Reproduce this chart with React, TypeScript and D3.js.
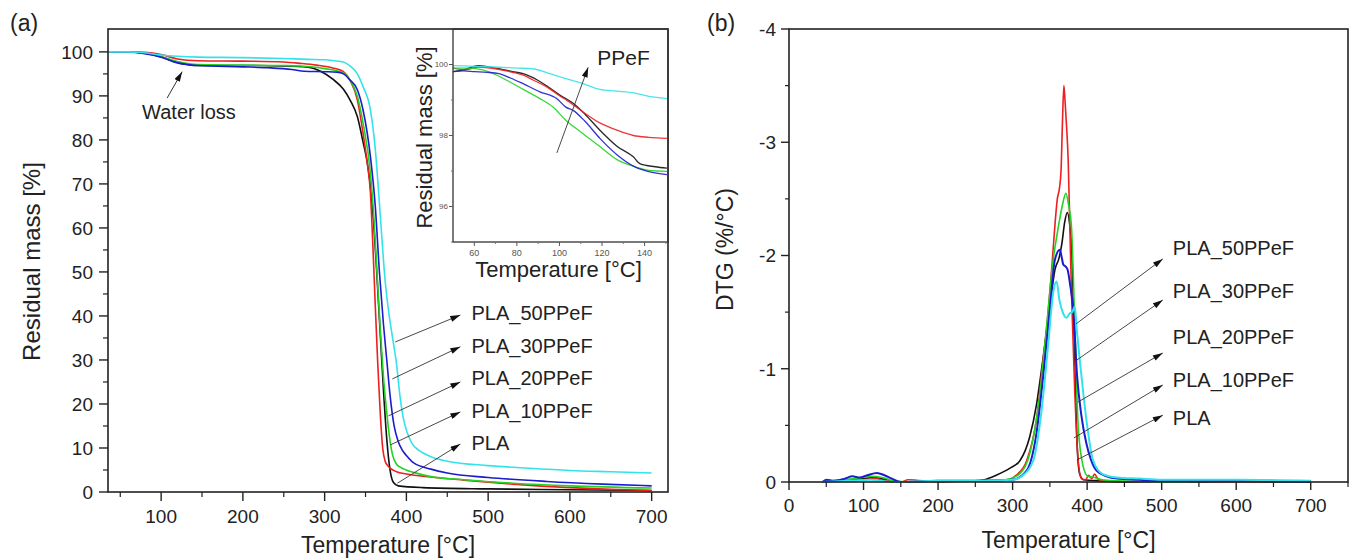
import React from "react";
import * as d3 from "d3";

type Pt = [number, number];

const FONT = "'Liberation Sans', Arial, Helvetica, sans-serif";

const seriesNames = ["PLA", "PLA_10PPeF", "PLA_20PPeF", "PLA_30PPeF", "PLA_50PPeF"];
const seriesColors = ["#111111", "#ee1f1f", "#22d322", "#1c1ccf", "#33e3ea"];

// ---------- (a) TGA residual mass [%] vs temperature [°C]
const tgaPLA: Pt[] = [[35,100],[60,100],[80,99.7],[100,98.9],[120,97.6],[145,96.9],[200,96.9],[250,96.8],[280,96.5],[295,95.6],[310,93.8],[323,91.5],[331,89.1],[340,85.3],[347,79.5],[352,75],[356,69.5],[360,61],[364,49],[368,36],[372,23],[376,12],[380,5],[384,2.2],[390,1.4],[420,1.0],[500,0.7],[600,0.5],[700,0.35]];
const tga10: Pt[] = [[35,100],[60,100],[80,99.9],[100,99.4],[120,98.4],[145,98.0],[200,97.9],[250,97.7],[270,97.4],[290,97.0],[311,96.3],[323,95.5],[331,93.6],[340,89.1],[347,81.5],[352,75],[356,68],[359,56],[362,42],[365,29],[368,18],[371,10],[374,7],[378,5.8],[388,4.6],[400,4.1],[430,3.4],[470,2.7],[530,1.8],[600,1.0],[650,0.6],[700,0.35]];
const tga20: Pt[] = [[35,100],[60,100],[80,99.7],[100,98.9],[120,97.8],[145,97.1],[200,97.0],[250,96.9],[270,96.8],[300,96.2],[323,95.2],[331,93.6],[340,89.9],[347,83.8],[356,72.4],[360,63],[364,50],[368,37],[372,26],[376,18],[379,13],[383,8.5],[388,6.3],[393,5.6],[410,4.4],[430,3.5],[470,2.8],[531,2.0],[600,1.4],[700,0.9]];
const tga30: Pt[] = [[35,100],[60,100],[80,99.6],[100,98.8],[120,97.5],[145,96.9],[200,96.6],[230,96.4],[260,96.0],[275,95.6],[300,95.5],[315,95.4],[323,95.0],[331,93.6],[340,91.4],[347,86.8],[356,76.2],[362,64.8],[367,50],[372,38],[376,30],[380,22],[385,15],[390,11.5],[395,9.5],[400,8.3],[409,6.6],[430,5.2],[450,4.3],[500,3.3],[572,2.4],[640,1.8],[700,1.4]];
const tga50: Pt[] = [[35,100],[60,100],[80,99.8],[100,99.3],[120,99.0],[145,98.8],[200,98.7],[250,98.5],[280,98.3],[300,98.2],[311,98.0],[323,97.7],[331,96.8],[340,95],[347,92.1],[356,86.8],[362,77.8],[368,63],[374,48],[379,40],[384,34],[388,29],[392,22],[396,17],[401,13.5],[407,11],[415,9.5],[430,8],[450,7],[500,6],[550,5.4],[600,4.9],[650,4.6],[700,4.3]];

// ---------- inset (50–150 °C)
const insetPLA: Pt[] = [[50,99.8],[55,99.85],[62,99.97],[70,99.9],[78,99.8],[83,99.74],[90,99.55],[94,99.4],[100,99.15],[106.6,98.9],[112,98.6],[119,98.15],[127,97.7],[134.7,97.4],[138,97.2],[145,97.12],[150.5,97.08]];
const inset10: Pt[] = [[50,99.9],[56,99.85],[62,99.93],[70,99.88],[78,99.78],[83,99.7],[88,99.55],[94,99.37],[100,99.12],[103.5,98.99],[110,98.71],[119.4,98.34],[127,98.15],[134.7,98.0],[142,97.95],[150.5,97.92]];
const inset20: Pt[] = [[50,99.9],[58,99.9],[64,99.85],[71.6,99.67],[77,99.5],[83,99.3],[90.8,99.04],[97,98.8],[103,98.43],[110,98.1],[119,97.69],[127,97.32],[135,97.13],[142,97.02],[150.5,96.99]];
const inset30: Pt[] = [[50,99.8],[55,99.82],[60,99.8],[66,99.78],[71.6,99.74],[77,99.62],[82.9,99.46],[90.8,99.23],[98.7,99.04],[103,98.8],[106.6,98.7],[112,98.4],[119,97.92],[127,97.46],[135,97.13],[142,96.98],[150.5,96.9]];
const inset50: Pt[] = [[50,99.97],[60,99.95],[70,99.93],[80,99.9],[87.4,99.88],[95,99.75],[103,99.6],[110,99.48],[119,99.3],[127,99.25],[135,99.2],[142,99.1],[150.5,99.04]];

// ---------- (b) DTG (%/°C) vs temperature
const dtgPLA: Pt[] = [[45,0],[60,-0.01],[80,-0.02],[100,-0.03],[115,-0.04],[130,-0.02],[150,0],[200,-0.01],[250,-0.01],[262,-0.02],[278,-0.06],[296,-0.12],[310,-0.19],[323,-0.4],[332,-0.68],[340,-1.05],[350,-1.55],[357,-1.88],[362,-1.97],[366,-2.1],[370,-2.3],[373.5,-2.38],[377,-2.25],[379,-2.1],[381,-1.7],[383.5,-1.08],[386.5,-0.34],[390,-0.07],[395,-0.02],[420,-0.01],[450,0],[500,-0.01],[550,0],[600,-0.01],[650,0],[700,-0.01]];
const dtg10: Pt[] = [[45,0],[60,-0.01],[80,-0.01],[100,-0.02],[115,-0.03],[130,-0.01],[150,0],[160,-0.02],[200,0],[250,-0.01],[280,-0.01],[295,-0.02],[305,-0.06],[319,-0.19],[332,-0.55],[341,-1.08],[347,-1.45],[352,-1.84],[356,-2.2],[360,-2.5],[363,-2.6],[365,-2.75],[367,-3.2],[368.8,-3.5],[370.5,-3.35],[372.4,-3.14],[374.6,-2.84],[377,-2.2],[379,-1.67],[383.5,-0.78],[388,-0.19],[392.5,-0.03],[398,-0.02],[402,-0.06],[406,-0.03],[410,-0.07],[414,-0.03],[420,-0.01],[450,0],[500,-0.01],[600,0],[700,-0.01]];
const dtg20: Pt[] = [[45,0],[70,-0.02],[90,-0.03],[110,-0.05],[125,-0.04],[140,-0.01],[160,0],[200,-0.01],[250,-0.01],[290,-0.02],[309,-0.07],[323,-0.25],[336.6,-0.78],[345.6,-1.37],[354.4,-1.96],[360,-2.2],[364,-2.35],[367,-2.45],[371.5,-2.55],[375,-2.45],[379,-2.25],[383.5,-1.37],[388,-0.49],[394.6,-0.14],[401,-0.05],[410,-0.04],[420,-0.02],[440,-0.01],[500,0],[600,-0.01],[700,0]];
const dtg30: Pt[] = [[45,0],[50,-0.02],[60,-0.01],[75,-0.03],[85,-0.05],[95,-0.04],[105,-0.06],[118,-0.08],[128,-0.06],[138,-0.03],[150,0],[200,-0.01],[250,-0.01],[300,-0.02],[318.8,-0.1],[332,-0.43],[341,-0.93],[350,-1.52],[356.7,-1.96],[363.4,-2.05],[366,-1.98],[368,-1.92],[371.5,-1.9],[374,-1.87],[377,-1.75],[381.4,-1.52],[386.6,-0.93],[392,-0.6],[399,-0.34],[405,-0.2],[412.6,-0.1],[426,-0.05],[440,-0.03],[470,-0.02],[500,-0.01],[600,-0.01],[700,0]];
const dtg50: Pt[] = [[45,0],[80,-0.01],[110,-0.02],[140,0],[200,-0.01],[250,-0.01],[300,-0.02],[314,-0.06],[327.7,-0.19],[339,-0.64],[347.8,-1.22],[354.4,-1.67],[359,-1.77],[363,-1.6],[367.8,-1.49],[372,-1.45],[376.8,-1.49],[380,-1.5],[383.5,-1.55],[385.8,-1.37],[392.5,-0.93],[399,-0.55],[408,-0.19],[421,-0.07],[440,-0.04],[470,-0.03],[500,-0.02],[600,-0.02],[700,-0.01]];

// ---------- ticks
const aXTicks = [100, 200, 300, 400, 500, 600, 700];
const aXMinor = [50, 150, 250, 350, 450, 550, 650];
const aYTicks = [0, 10, 20, 30, 40, 50, 60, 70, 80, 90, 100];
const aYMinor = [5, 15, 25, 35, 45, 55, 65, 75, 85, 95];
const inXTicks = [60, 80, 100, 120, 140];
const inXMinor = [70, 90, 110, 130, 150];
const inYTicks = [96, 98, 100];
const inYMinor = [95, 97, 99];
const bXTicks = [0, 100, 200, 300, 400, 500, 600, 700];
const bXMinor = [50, 150, 250, 350, 450, 550, 650, 750];
const bYTicks = [0, -1, -2, -3, -4];
const bYMinor = [-0.5, -1.5, -2.5, -3.5];

// ---------- annotations (data units)
const aArrowStart: Pt[] = [[389, 2], [380.4, 10.7], [378, 17.3], [382.8, 25.7], [386.5, 34.1]];
const aArrowEnd: Pt[] = [[466, 10.9], [466, 18.2], [466, 25], [466, 33], [466, 40.2]];
const aLabelPos: Pt[] = [[479.6, 11.1], [479.6, 18.4], [479.6, 25.9], [479.6, 33.2], [479.6, 40.7]];
const bArrowStart: Pt[] = [[386.2, -0.194], [382.2, -0.389], [387.6, -0.706], [386.2, -1.077], [384.9, -1.395]];
const bArrowEnd: Pt[] = [[501.5, -0.59], [501.5, -0.857], [501.5, -1.139], [501.5, -1.607], [501.5, -1.97]];
const bLabelPos: Pt[] = [[515, -0.565], [515, -0.9], [515, -1.28], [515, -1.687], [515, -2.066]];

const tgaSeries = [tgaPLA, tga10, tga20, tga30, tga50];
const insetSeries = [insetPLA, inset10, inset20, inset30, inset50];
const dtgSeries = [dtgPLA, dtg10, dtg20, dtg30, dtg50];

// ---------- layout
const W = 1353, H = 559;
const A = { l: 108, r: 668, t: 29, b: 492 };
const I = { l: 453, r: 668, t: 29, b: 242 };
const B = { l: 789, r: 1348, t: 29, b: 482 };

const xA = d3.scaleLinear().domain([35, 720]).range([A.l, A.r]);
const yA = d3.scaleLinear().domain([0, 105.2]).range([A.b, A.t]);
const xI = d3.scaleLinear().domain([50, 151]).range([I.l, I.r]);
const yI = d3.scaleLinear().domain([95, 101]).range([I.b, I.t]);
const xB = d3.scaleLinear().domain([0, 750]).range([B.l, B.r]);
const yB = d3.scaleLinear().domain([0, -4]).range([B.b, B.t]);

const lineA = d3.line<Pt>().x(d => xA(d[0])).y(d => yA(d[1])).curve(d3.curveMonotoneX);
const lineI = d3.line<Pt>().x(d => xI(d[0])).y(d => yI(d[1])).curve(d3.curveMonotoneX);
const lineB = d3.line<Pt>().x(d => xB(d[0])).y(d => yB(d[1])).curve(d3.curveMonotoneX);

const TXT = "#222";

export default function App() {
  return (
    <div style={{ position: "absolute", left: 0, top: 0 }}>
      <svg width={W} height={H} style={{ display: "block", background: "#fff" }} fontFamily={FONT}>
        <defs>
          <marker id="ah" viewBox="0 0 10 6" refX="10" refY="3" markerWidth="11" markerHeight="6" markerUnits="userSpaceOnUse" orient="auto">
            <path d="M0,0 L10,3 L0,6 Z" fill="#111" />
          </marker>
          <clipPath id="clipA"><rect x={A.l} y={A.t} width={A.r - A.l} height={A.b - A.t} /></clipPath>
          <clipPath id="clipI"><rect x={I.l} y={I.t} width={I.r - I.l} height={I.b - I.t} /></clipPath>
          <clipPath id="clipB"><rect x={B.l} y={B.t - 2} width={B.r - B.l} height={B.b - B.t + 4} /></clipPath>
        </defs>

        {/* ===== Panel (a) ===== */}
        <text x={10} y={31} fontSize={23} fill={TXT}>(a)</text>
        <g clipPath="url(#clipA)">
          {tgaSeries.map((s, i) => (
            <path key={i} d={lineA(s) || ""} fill="none" stroke={seriesColors[i]} strokeWidth={1.6} />
          ))}
        </g>
        <rect x={A.l} y={A.t} width={A.r - A.l} height={A.b - A.t} fill="none" stroke="#222" strokeWidth={1.6} />
        {aYTicks.map(v => (
          <g key={"ay" + v}>
            <line x1={A.l - 9} x2={A.l} y1={yA(v)} y2={yA(v)} stroke="#222" strokeWidth={1.4} />
            <text x={A.l - 15} y={yA(v)} dy="0.36em" textAnchor="end" fontSize={19} fill={TXT}>{v}</text>
          </g>
        ))}
        {aYMinor.map(v => (
          <line key={"aym" + v} x1={A.l - 5} x2={A.l} y1={yA(v)} y2={yA(v)} stroke="#222" strokeWidth={1.2} />
        ))}
        {aXTicks.map(v => (
          <g key={"ax" + v}>
            <line x1={xA(v)} x2={xA(v)} y1={A.b} y2={A.b + 9} stroke="#222" strokeWidth={1.4} />
            <text x={xA(v)} y={A.b + 31} textAnchor="middle" fontSize={19} fill={TXT}>{v}</text>
          </g>
        ))}
        {aXMinor.map(v => (
          <line key={"axm" + v} x1={xA(v)} x2={xA(v)} y1={A.b} y2={A.b + 5} stroke="#222" strokeWidth={1.2} />
        ))}
        <text transform={`translate(40,${(A.t + A.b) / 2 + 1}) rotate(-90)`} textAnchor="middle" fontSize={24} fill={TXT}>Residual mass [%]</text>
        <text x={(A.l + A.r) / 2} y={553} textAnchor="middle" fontSize={23} fill={TXT}>Temperature [°C]</text>

        {/* Water loss */}
        <line x1={xA(107.3)} y1={yA(89.5)} x2={xA(125.7)} y2={yA(95.5)} stroke="#333" strokeWidth={1} markerEnd="url(#ah)" />
        <text x={xA(76.7)} y={yA(86.4)} dy="0.36em" fontSize={20} fill={TXT}>Water loss</text>

        {seriesNames.map((n, i) => (
          <g key={"al" + n}>
            <line x1={xA(aArrowStart[i][0])} y1={yA(aArrowStart[i][1])} x2={xA(aArrowEnd[i][0])} y2={yA(aArrowEnd[i][1])} stroke="#333" strokeWidth={0.9} markerEnd="url(#ah)" />
            <text x={xA(aLabelPos[i][0])} y={yA(aLabelPos[i][1])} dy="0.36em" fontSize={20} fill={TXT}>{n}</text>
          </g>
        ))}

        {/* ===== Inset ===== */}
        <rect x={406} y={A.t + 1} width={A.r - 407} height={258} fill="#fff" />
        <g clipPath="url(#clipI)">
          {insetSeries.map((s, i) => (
            <path key={i} d={lineI(s) || ""} fill="none" stroke={seriesColors[i]} strokeWidth={1.3} opacity={0.9} />
          ))}
        </g>
        <rect x={I.l} y={I.t} width={I.r - I.l} height={I.b - I.t} fill="none" stroke="#333" strokeWidth={1.3} />
        {inYTicks.map(v => (
          <g key={"iy" + v}>
            <line x1={I.l - 4} x2={I.l} y1={yI(v)} y2={yI(v)} stroke="#555" strokeWidth={1} />
            <text x={I.l - 5} y={yI(v)} dy="0.35em" textAnchor="end" fontSize={8} fill="#555">{v}</text>
          </g>
        ))}
        {inYMinor.map(v => (
          <line key={"iym" + v} x1={I.l - 2} x2={I.l} y1={yI(v)} y2={yI(v)} stroke="#777" strokeWidth={1} />
        ))}
        {inXTicks.map(v => (
          <g key={"ix" + v}>
            <line x1={xI(v)} x2={xI(v)} y1={I.b} y2={I.b + 4} stroke="#555" strokeWidth={1} />
            <text x={xI(v)} y={I.b + 14} textAnchor="middle" fontSize={9} fill="#555">{v}</text>
          </g>
        ))}
        {inXMinor.map(v => (
          <line key={"ixm" + v} x1={xI(v)} x2={xI(v)} y1={I.b} y2={I.b + 2} stroke="#777" strokeWidth={1} />
        ))}
        <text transform={`translate(432,${(I.t + I.b) / 2 + 2}) rotate(-90)`} textAnchor="middle" fontSize={22} fill={TXT}>Residual mass [%]</text>
        <text x={(I.l + I.r) / 2 - 2} y={277} textAnchor="middle" fontSize={22} fill={TXT}>Temperature [°C]</text>
        <line x1={xI(98.8)} y1={yI(97.51)} x2={xI(113.5)} y2={yI(99.92)} stroke="#333" strokeWidth={0.9} markerEnd="url(#ah)" />
        <text x={xI(117.8)} y={yI(100.2)} dy="0.36em" fontSize={21} fill={TXT}>PPeF</text>

        {/* ===== Panel (b) ===== */}
        <text x={707} y={31} fontSize={23} fill={TXT}>(b)</text>
        <g clipPath="url(#clipB)">
          {dtgSeries.map((s, i) => (
            <path key={i} d={lineB(s) || ""} fill="none" stroke={seriesColors[i]} strokeWidth={i === 4 || i === 3 ? 2 : 1.6} />
          ))}
        </g>
        <rect x={B.l} y={B.t} width={B.r - B.l} height={B.b - B.t} fill="none" stroke="#222" strokeWidth={1.6} />
        {bYTicks.map(v => (
          <g key={"by" + v}>
            <line x1={B.l - 8} x2={B.l} y1={yB(v)} y2={yB(v)} stroke="#222" strokeWidth={1.4} />
            <text x={B.l - 13} y={yB(v)} dy="0.36em" textAnchor="end" fontSize={19} fill={TXT}>{v}</text>
          </g>
        ))}
        {bYMinor.map(v => (
          <line key={"bym" + v} x1={B.l - 4} x2={B.l} y1={yB(v)} y2={yB(v)} stroke="#222" strokeWidth={1.2} />
        ))}
        {bXTicks.map(v => (
          <g key={"bx" + v}>
            <line x1={xB(v)} x2={xB(v)} y1={B.b} y2={B.b + 8} stroke="#222" strokeWidth={1.4} />
            <text x={xB(v)} y={B.b + 30} textAnchor="middle" fontSize={19} fill={TXT}>{v}</text>
          </g>
        ))}
        {bXMinor.map(v => (
          <line key={"bxm" + v} x1={xB(v)} x2={xB(v)} y1={B.b} y2={B.b + 5} stroke="#222" strokeWidth={1.2} />
        ))}
        <text transform={`translate(733,${(B.t + B.b) / 2 - 6}) rotate(-90)`} textAnchor="middle" fontSize={23} fill={TXT}>DTG (%/°C)</text>
        <text x={(B.l + B.r) / 2} y={548} textAnchor="middle" fontSize={23} fill={TXT}>Temperature [°C]</text>

        {seriesNames.map((n, i) => (
          <g key={"bl" + n}>
            <line x1={xB(bArrowStart[i][0])} y1={yB(bArrowStart[i][1])} x2={xB(bArrowEnd[i][0])} y2={yB(bArrowEnd[i][1])} stroke="#333" strokeWidth={0.9} markerEnd="url(#ah)" />
            <text x={xB(bLabelPos[i][0])} y={yB(bLabelPos[i][1])} dy="0.36em" fontSize={20} fill={TXT}>{n}</text>
          </g>
        ))}
      </svg>
    </div>
  );
}
